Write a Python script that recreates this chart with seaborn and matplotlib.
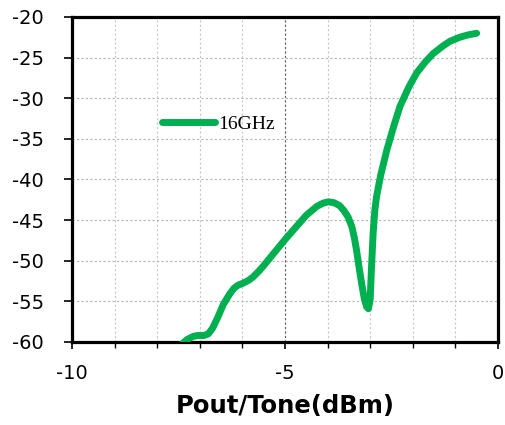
import matplotlib
matplotlib.use("Agg")
import matplotlib.pyplot as plt
import seaborn as sns
import pandas as pd
from matplotlib.ticker import MultipleLocator

pout = [-7.45, -7.3, -7.15, -7.05, -6.9, -6.8, -6.7, -6.58, -6.45, -6.3, -6.2, -6.1, -6.0,
        -5.85, -5.75, -5.6, -5.5, -5.25, -5.0, -4.75, -4.5, -4.25, -4.1, -3.98, -3.85,
        -3.72, -3.62, -3.52, -3.43, -3.37, -3.32, -3.26, -3.2, -3.14, -3.08, -3.04,
        -3.0, -2.97, -2.93, -2.89, -2.85, -2.75, -2.61, -2.45, -2.3, -2.1, -1.91,
        -1.7, -1.52, -1.3, -1.13, -0.9, -0.7, -0.5]
imd = [-60.4, -59.7, -59.3, -59.2, -59.2, -59.0, -58.3, -57.0, -55.4, -54.1, -53.4, -53.0, -52.8,
       -52.4, -52.0, -51.2, -50.6, -49.0, -47.4, -45.9, -44.4, -43.3, -42.9, -42.75, -42.85,
       -43.2, -43.8, -44.6, -45.8, -47.2, -48.7, -50.8, -52.8, -54.6, -55.7, -55.9,
       -54.8, -51.0, -46.6, -43.8, -42.1, -39.4, -36.4, -33.5, -31.0, -28.7, -26.9,
       -25.5, -24.5, -23.6, -23.0, -22.5, -22.2, -22.0]
series_label = "16GHz"
x_ticks = [-10, -5, 0]
y_ticks = [-60, -55, -50, -45, -40, -35, -30, -25, -20]

df = pd.DataFrame({"Pout/Tone(dBm)": pout, "IMD": imd})

sns.set_style("white")
plt.rcParams["text.color"] = "black"
plt.rcParams["xtick.color"] = "black"
plt.rcParams["ytick.color"] = "black"
plt.rcParams["axes.labelcolor"] = "black"

fig = plt.figure(figsize=(5.05, 4.25), dpi=100)
ax = fig.add_axes([0.1426, 0.1953, 0.8434, 0.7647])

ax.set_xlim(-10, 0)
ax.set_ylim(-60, -20)

# grid
ax.xaxis.set_minor_locator(MultipleLocator(1))
ax.set_xticks(x_ticks)
ax.set_yticks(y_ticks)
ax.grid(True, which="both", axis="x", color="#c8c8c8", linestyle=(0, (2, 2)), linewidth=0.8)
ax.grid(True, which="major", axis="y", color="#b4b4b4", linestyle=(0, (2, 2)), linewidth=0.8)
ax.axvline(-5, color="#606060", linestyle=(0, (2, 2)), linewidth=0.8, zorder=1)

sns.lineplot(data=df, x="Pout/Tone(dBm)", y="IMD", ax=ax, color="#00B050",
             linewidth=5.0, label=series_label, solid_capstyle="round", zorder=3)

for s in ax.spines.values():
    s.set_color("black")
    s.set_linewidth(2.3)

ax.tick_params(axis="both", which="major", direction="out", length=6, width=1.2,
               colors="black", labelsize=14)
ax.tick_params(axis="x", which="minor", direction="out", length=4, width=1.0, color="black",
               bottom=True)
ax.tick_params(axis="x", which="major", pad=11, bottom=True, length=5)
ax.tick_params(axis="y", left=True, pad=14)
ax.set_xticklabels(["-10", "-5", "0"])
ax.set_yticklabels([str(v) for v in y_ticks])

ax.set_xlabel("Pout/Tone(dBm)", fontsize=17.5, fontweight="bold", labelpad=8, color="black")
ax.set_ylabel("")

leg = ax.legend(loc="center left", bbox_to_anchor=(0.17, 0.67), frameon=False,
                handlelength=2.75, handletextpad=0.15,
                prop={"family": "Liberation Serif", "size": 14})
for t in leg.get_texts():
    t.set_color("black")
for h in leg.get_lines():
    h.set_linewidth(5.0)
    h.set_solid_capstyle("round")

fig.savefig("out.png", dpi=100)
